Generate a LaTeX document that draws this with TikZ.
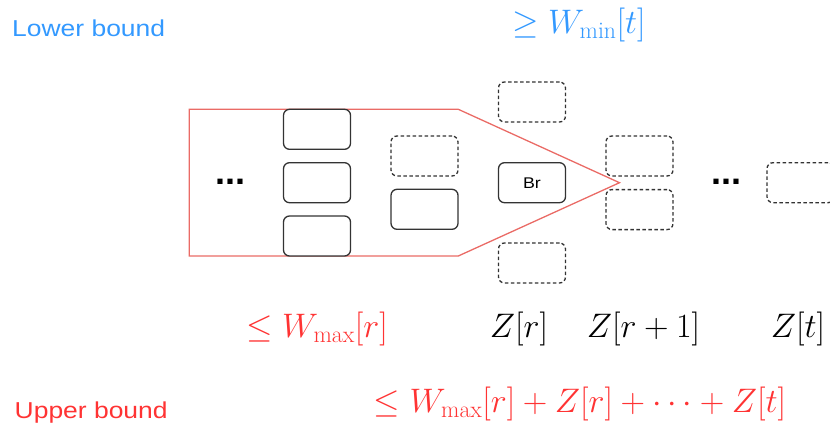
\RequirePackage{fix-cm}
\documentclass[tikz,border=0pt]{standalone}
\usepackage{fontspec}
\setsansfont{Liberation Sans}[FakeStretch=1.15]
\newfontfamily\dotfont{Liberation Sans}
\definecolor{boundblue}{HTML}{3399FF}
\definecolor{boundred}{HTML}{FF3333}
\definecolor{coneline}{HTML}{EA6B66}
\definecolor{boxline}{HTML}{333333}
\begin{document}
\begin{tikzpicture}[x=1pt,y=-1pt,
  blockbox/.style={draw=boxline, line width=1.3pt, rounded corners=6pt,
    minimum width=67pt, minimum height=40pt, inner sep=0pt, fill=white},
  ghostbox/.style={blockbox, dash pattern=on 3.5pt off 2.5pt},
  mathlabel/.style={inner sep=0pt, anchor=base, font=\fontsize{34}{40}\selectfont},
  boundlabel/.style={inner sep=0pt, anchor=base west, font=\sffamily\fontsize{23}{28}\selectfont},
  ellip/.style={inner sep=0pt, font=\dotfont\bfseries\fontsize{36}{40}\selectfont}]
\clip (0,0) rectangle (830,429);

% cone of blocks bounded by the upper bound
\draw[coneline, line width=1.3pt, line join=miter]
  (189.3,109.3) -- (458.3,109.3) -- (619.5,182.7) -- (458.3,256) -- (189.3,256) -- cycle;

% first column of blocks
\node[blockbox] (c1a) at (317,129.3) {};
\node[blockbox] (c1b) at (317,182.7) {};
\node[blockbox] (c1c) at (317,236) {};

% second column
\node[ghostbox] (c2a) at (424.5,156) {};
\node[blockbox] (c2b) at (424.5,209.3) {};

% column of round r
\node[ghostbox] (top) at (532,102) {};
\node[blockbox, font=\sffamily\fontsize{15.5}{18}\selectfont] (br) at (532,182.7) {Br};
\node[ghostbox] (bot) at (532,263) {};

% column of round r+1
\node[ghostbox] (c4a) at (639.5,156) {};
\node[ghostbox] (c4b) at (639.5,209.6) {};

% round t
\node[ghostbox] (last) at (800.5,182.7) {};

% ellipses
\node[ellip] (d1) at (230,182) {...};
\node[ellip] (d2) at (726.5,182) {...};

% bound labels
\node[boundlabel, text=boundblue] (lower) at (12,36) {Lower bound};
\node[boundlabel, text=boundred] (upper) at (14.5,418) {Upper bound};

\node[mathlabel, text=boundblue] (wmin) at (579,33) {$\geq W_{\min}[t]$};
\node[mathlabel, text=boundred] (wmax) at (317,337.5) {$\leq W_{\max}[r]$};
\node[mathlabel] (zr) at (519,337.5) {$Z[r]$};
\node[mathlabel] (zr1) at (643.6,337.5) {$Z[r+1]$};
\node[mathlabel] (zt) at (798,337.5) {$Z[t]$};
\node[mathlabel, text=boundred] (sum) at (580,412) {$\leq W_{\max}[r] + Z[r] + \cdots + Z[t]$};
\end{tikzpicture}
\end{document}
